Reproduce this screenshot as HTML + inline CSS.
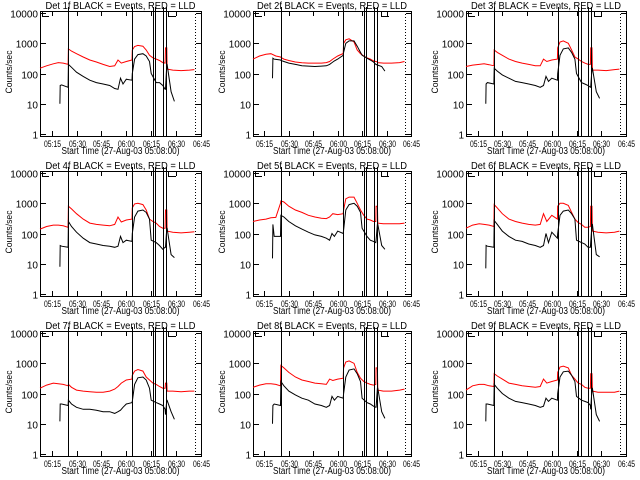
<!DOCTYPE html>
<html><head><meta charset="utf-8"><style>
body{margin:0;background:#fff;}
svg{display:block;font-family:"Liberation Sans",sans-serif;}
</style></head><body>
<svg id="chart" width="640" height="480" viewBox="0 0 640 480" xmlns="http://www.w3.org/2000/svg"></svg>
<script>
const detectorNames = ["Det 1f","Det 2f","Det 3f","Det 4f","Det 5f","Det 6f","Det 7f","Det 8f","Det 9f"];
const yTickValues = [1,10,100,1000,10000];
const yTickLabels = ["1","10","100","1000","10000"];
const xTickMinutes = [7,22,37,52,67,82,97];
const xTickLabels = ["05:15","05:30","05:45","06:00","06:15","06:30","06:45"];
const solidMarkers = [17,55.5,68,69.5,74,76];
const dottedMarkers = [93.5];
const redTimes = [0,4,8,11,14,16.9,17.1,19,22,26,30,34,38,42,45,47,49,52,55.4,55.6,57,59,62,64,66,68,70,72,74,75.4,75.6,76.4,76.6,80,85,90,93];
const blackTimes = [12,12.2,13,16.9,17.1,19,22,26,30,34,38,42,45,47,48.5,50,52,55.4,55.6,57,59,62,64,66,67,70,72,74,75.4,75.6,76.4,76.6,79,81];
const red1 = [150,180,210,230,220,200,650,550,450,350,280,240,200,170,180,280,220,250,280,600,780,850,800,600,400,330,300,270,230,220,700,700,140,130,125,130,135];
const black1 = [10,40,42,35,200,160,110,80,60,50,45,40,32,30,70,45,65,60,100,300,420,450,380,250,100,50,50,40,30,30,200,200,25,12];
const red2 = [300,380,430,450,380,350,340,300,270,240,225,220,220,220,230,250,300,380,460,1000,1300,1400,1100,600,450,380,330,300,260,250,250,240,230,220,220,230,250];
const black2 = [70,320,300,280,270,250,220,200,180,175,170,175,180,200,230,260,300,400,500,1000,1200,1200,800,500,400,320,280,240,200,200,190,190,170,120];
const red3 = [170,190,200,210,195,180,600,500,400,300,250,220,200,180,180,300,250,280,300,700,1100,1200,1000,600,350,300,250,220,200,200,700,700,130,130,125,135,140];
const black3 = [10,45,50,45,150,120,90,70,55,50,45,40,35,40,80,55,70,60,100,400,650,700,500,300,100,50,45,40,35,35,150,150,25,15];
const red4 = [140,170,190,190,180,160,800,650,450,300,220,200,190,180,200,350,240,280,300,700,950,1000,900,600,300,250,220,170,150,150,600,600,120,110,105,110,115];
const black4 = [8,40,38,35,250,170,110,70,50,45,40,38,35,38,80,50,60,55,100,350,550,600,500,300,60,50,40,30,35,35,150,150,20,16];
const red5 = [250,280,300,330,340,1000,1200,1100,800,600,500,400,350,320,310,350,450,420,450,600,1400,1600,1600,1000,600,400,300,280,250,250,800,800,220,210,210,210,220];
const black5 = [15,200,80,80,400,350,250,180,140,110,90,80,70,60,100,80,120,100,130,600,900,1000,800,500,150,80,60,55,50,60,200,200,40,30];
const red6 = [150,190,210,200,190,170,900,700,450,300,250,220,200,190,200,450,250,400,300,800,1000,1000,850,500,300,230,200,160,160,170,800,800,120,110,105,110,120];
const black6 = [7,40,38,35,270,200,120,80,60,55,45,40,35,40,100,50,110,70,100,400,550,600,450,300,60,50,45,35,35,50,200,200,20,17];
const red7 = [150,190,220,210,200,180,200,160,130,120,115,110,110,120,140,170,220,280,300,400,550,620,550,350,280,220,200,170,150,150,220,220,120,120,115,120,120];
const black7 = [12,45,45,40,60,45,35,30,30,28,25,25,22,25,28,35,45,50,55,200,330,350,280,150,60,50,45,40,30,20,60,60,25,14];
const red8 = [160,190,210,210,200,180,850,700,500,350,280,250,220,210,200,300,270,300,320,700,1100,1200,1000,500,320,250,220,200,190,200,700,700,130,120,120,130,140];
const black8 = [10,40,45,40,250,180,120,90,70,60,45,40,35,40,80,60,80,70,100,350,600,650,450,250,70,50,45,38,35,35,150,150,25,15];
const red9 = [130,180,200,200,180,170,450,380,300,220,200,180,170,160,170,300,220,250,280,500,750,800,700,400,300,220,200,160,150,150,450,450,120,110,110,110,120];
const black9 = [12,45,45,40,200,150,100,70,55,50,45,40,35,38,70,55,70,60,100,350,520,550,400,250,80,60,55,50,40,30,150,150,20,12];
const redSeries = [red1,red2,red3,red4,red5,red6,red7,red8,red9];
const blackSeries = [black1,black2,black3,black4,black5,black6,black7,black8,black9];

const NS = "http://www.w3.org/2000/svg";
const svg = document.getElementById("chart");
function mk(tag, attrs, parent){
  const e = document.createElementNS(NS, tag);
  for (const k in attrs) e.setAttribute(k, attrs[k]);
  parent.appendChild(e);
  return e;
}
const colLeft = [40,253,466];
const colWidth = [161,158,160];
const TMAX = 97;
for (let p = 0; p < 9; p++) {
  const col = p % 3, row = Math.floor(p / 3);
  const x0 = colLeft[col], w = colWidth[col];
  const oy = row * 160;
  const top = oy + 11, bot = oy + 136;
  const xs = t => x0 + t / TMAX * w;
  const ys = v => oy + 134 - Math.log10(v) * 30.25;
  const g = mk("g", {}, svg);
  
  
  const tt = mk("text", {x: x0 + w / 2, y: oy + 9, "font-size": 10, "text-anchor": "middle", textLength: 150, lengthAdjust: "spacingAndGlyphs"}, g);
  tt.textContent = detectorNames[p] + " BLACK = Events, RED = LLD";
  
  
  const box = mk("rect", {x: x0 + 0.5, y: top + 0.5, width: w, height: bot - top, fill: "none", stroke: "#000", "stroke-width": 1}, g);
  
  
  mk("path", {d: `M${x0+2.5},${top} V${top+5.5} H${x0+9}`, fill: "none", stroke: "#000"}, g);
  mk("path", {d: `M${x0+128.5},${top} V${top+5.5} H${x0+136}`, fill: "none", stroke: "#000"}, g);
  for (let i = 0; i < yTickValues.length; i++) {
    const y = Math.round(ys(yTickValues[i])) + 0.5;
    mk("line", {x1: x0, x2: x0 + 6, y1: y, y2: y, stroke: "#000"}, g);
    mk("line", {x1: x0 + w - 5, x2: x0 + w + 1, y1: y, y2: y, stroke: "#000"}, g);
    const lab = mk("text", {x: x0 - 2, y: y + 4, "font-size": 10, "text-anchor": "end"}, g);
    lab.textContent = yTickLabels[i];
    
    
  }
  for (let i = 0; i < xTickMinutes.length; i++) {
    const x = Math.round(xs(xTickMinutes[i])) + 0.5;
    mk("line", {x1: x, x2: x, y1: bot, y2: bot - 5, stroke: "#000"}, g);
    mk("line", {x1: x, x2: x, y1: top, y2: top + 5, stroke: "#000"}, g);
    const lab = mk("text", {x: x, y: oy + 147, "font-size": 9, "text-anchor": "middle", textLength: 17, lengthAdjust: "spacingAndGlyphs"}, g);
    lab.textContent = xTickLabels[i];
    
    
  }
  const xt = mk("text", {x: x0 + w / 2, y: oy + 154, "font-size": 10, "text-anchor": "middle", textLength: 118, lengthAdjust: "spacingAndGlyphs"}, g);
  xt.textContent = "Start Time (27-Aug-03 05:08:00)";
  
  
  const yt = mk("text", {x: 0, y: 0, "font-size": 9, "text-anchor": "middle", textLength: 43, lengthAdjust: "spacingAndGlyphs", transform: `translate(${x0 - 28},${oy + 72}) rotate(-90)`}, g);
  yt.textContent = "Counts/sec";
  
  
  const rp = redSeries[p].map((v, i) => `${i ? "L" : "M"}${xs(redTimes[i]).toFixed(1)},${ys(v).toFixed(1)}`).join("");
  const r = mk("path", {d: rp, fill: "none", stroke: "#ff0000", "stroke-width": 1}, g);
  
  
  const bp = blackSeries[p].map((v, i) => `${i ? "L" : "M"}${xs(blackTimes[i]).toFixed(1)},${ys(v).toFixed(1)}`).join("");
  const b = mk("path", {d: bp, fill: "none", stroke: "#000", "stroke-width": 1}, g);
  
  
  for (const m of solidMarkers) {
    const x = Math.round(xs(m)) + 0.5;
    const l = mk("line", {x1: x, x2: x, y1: top - 4, y2: bot, stroke: "#000"}, g);
    
    
  }
  for (const m of dottedMarkers) {
    const x = Math.round(xs(m)) + 0.5;
    const l = mk("line", {x1: x, x2: x, y1: top, y2: bot, stroke: "#000", "stroke-dasharray": "1,2"}, g);
    
    
  }
}
</script>
</body></html>
